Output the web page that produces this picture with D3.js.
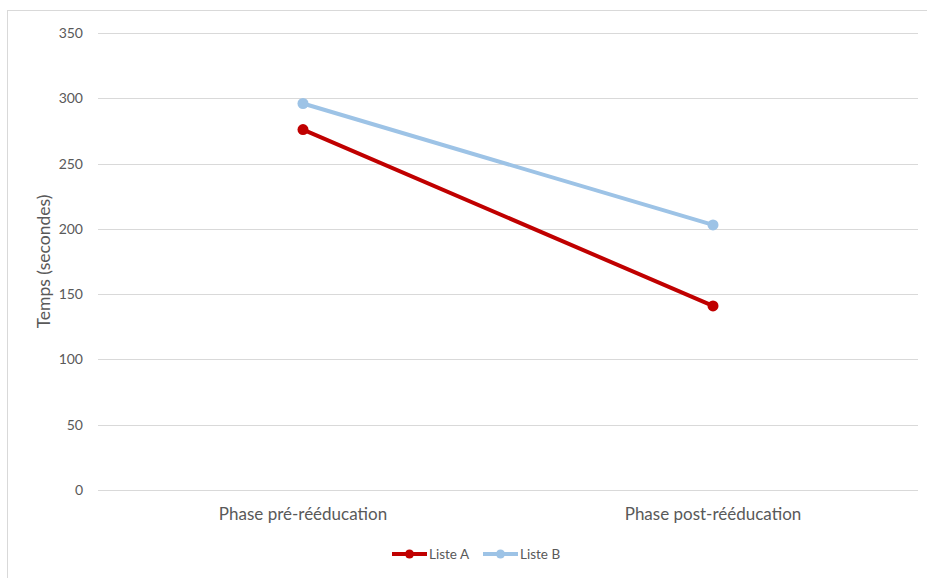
<!DOCTYPE html>
<html>
<head>
<meta charset="utf-8">
<script src="https://cdn.jsdelivr.net/npm/d3@7"></script>
<style>
  html, body { margin: 0; padding: 0; background: #fff; }
  svg { display: block; font-family: Lato, "Open Sans", sans-serif; }
</style>
</head>
<body>
<svg id="chart" width="927" height="578"></svg>
<script>
// Chart data
const categories = ["Phase pré-rééducation", "Phase post-rééducation"];
const seriesNames = ["Liste A", "Liste B"];
const listeA = [276, 141];
const listeB = [296, 203];
const yTicks = [0, 50, 100, 150, 200, 250, 300, 350];
const yTitle = "Temps (secondes)";

const colors = { "Liste A": "#C00000", "Liste B": "#9DC3E6" };
const series = [
  { name: seriesNames[0], values: listeA },
  { name: seriesNames[1], values: listeB }
];

const svg = d3.select("#chart");
const W = 927, H = 578;
const margin = { left: 98, right: 9, top: 33, bottom: 88 };

// Outer chart frame
svg.append("rect")
  .attr("x", 7.5).attr("y", 10.5)
  .attr("width", W + 20).attr("height", H + 20)
  .attr("fill", "#fff").attr("stroke", "#D9D9D9").attr("stroke-width", 1);

const x = d3.scaleBand().domain(categories).range([margin.left, W - margin.right]);
const y = d3.scaleLinear().domain([0, 350]).range([H - margin.bottom, margin.top]);

// Horizontal gridlines
svg.append("g").selectAll("line").data(yTicks).join("line")
  .attr("x1", margin.left).attr("x2", W - margin.right)
  .attr("y1", d => Math.round(y(d)) + 0.5).attr("y2", d => Math.round(y(d)) + 0.5)
  .attr("stroke", "#D9D9D9").attr("stroke-width", 1);

// Y axis labels
const yAxis = d3.axisLeft(y).tickValues(yTicks).tickSize(0).tickPadding(0);
const gy = svg.append("g").attr("transform", `translate(${margin.left - 15},0)`).call(yAxis);
gy.select(".domain").remove();
gy.selectAll("text").attr("fill", "#595959").attr("font-size", 14)
  .attr("font-family", "Lato, 'Open Sans', sans-serif");

// X axis labels
const xAxis = d3.axisBottom(x).tickSize(0).tickPadding(0);
const gx = svg.append("g").attr("transform", `translate(0,${y(0) + 18})`).call(xAxis);
gx.select(".domain").remove();
gx.selectAll("text").attr("fill", "#595959").attr("font-size", 17)
  .attr("font-family", "Lato, 'Open Sans', sans-serif");

// Y axis title
svg.append("text")
  .attr("transform", `translate(50,${(y(0) + y(350)) / 2}) rotate(-90)`)
  .attr("text-anchor", "middle").attr("fill", "#595959").attr("font-size", 17.5)
  .text(yTitle);

// Series lines and markers
const line = d3.line().x((d, i) => x(categories[i]) + x.bandwidth() / 2).y(d => y(d));
series.forEach(s => {
  const g = svg.append("g");
  g.append("path").datum(s.values).attr("d", line)
    .attr("fill", "none").attr("stroke", colors[s.name]).attr("stroke-width", 4)
    .attr("stroke-linecap", "round");
  g.selectAll("circle").data(s.values).join("circle")
    .attr("cx", (d, i) => x(categories[i]) + x.bandwidth() / 2)
    .attr("cy", d => y(d)).attr("r", 5.5).attr("fill", colors[s.name]);
});

// Legend
const legend = svg.append("g").attr("transform", "translate(392,554)");
const items = [
  { name: seriesNames[0], x: 0 },
  { name: seriesNames[1], x: 91 }
];
items.forEach(it => {
  const g = legend.append("g").attr("transform", `translate(${it.x},0)`);
  g.append("line").attr("x1", 0).attr("x2", 35).attr("y1", 0).attr("y2", 0)
    .attr("stroke", colors[it.name]).attr("stroke-width", 4);
  g.append("circle").attr("cx", 17.5).attr("cy", 0).attr("r", 4.5).attr("fill", colors[it.name]);
  g.append("text").attr("x", 37).attr("y", 4.5).attr("fill", "#595959").attr("font-size", 13.5)
    .text(it.name);
});
</script>
</body>
</html>
